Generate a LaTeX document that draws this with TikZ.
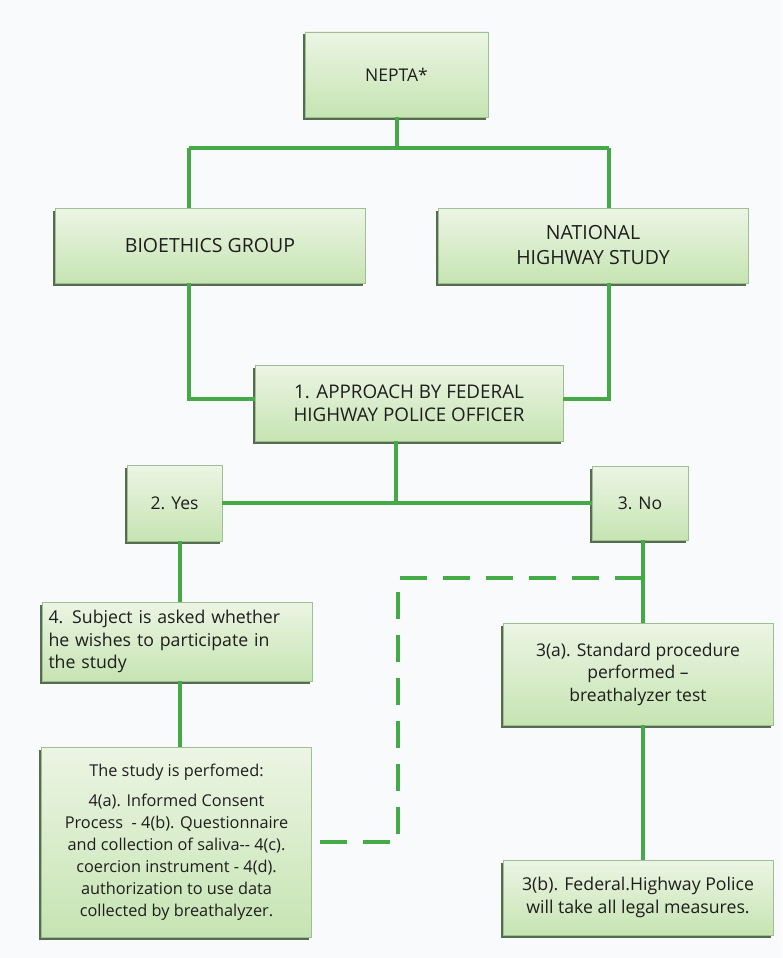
\documentclass[tikz,border=0pt]{standalone}
\usepackage{fontspec}
\setmainfont{Open Sans}
\usetikzlibrary{shadows}

\definecolor{pagebg}{RGB}{249,250,251}
\definecolor{wirecol}{RGB}{68,170,72}
\definecolor{boxtop}{RGB}{236,245,228}
\definecolor{boxbot}{RGB}{198,228,178}
\definecolor{boxedge}{RGB}{160,190,150}
\definecolor{shadowcol}{RGB}{58,84,52}
\definecolor{inkcol}{RGB}{30,30,30}

\tikzset{
  box/.style={rectangle, draw=boxedge, line width=0.6pt,
    top color=boxtop, bottom color=boxbot,
    drop shadow={shadow xshift=-2.5pt, shadow yshift=-2.5pt, fill=shadowcol, opacity=0.85},
    text=inkcol, align=center, inner sep=0pt,
    font=\fontsize{17.7}{22.5}\selectfont},
  capsfont/.style={font=\fontsize{19.5}{25}\selectfont},
  wire/.style={draw=wirecol, line width=4pt},
  dashwire/.style={draw=wirecol, line width=4pt, dash pattern=on 27pt off 16pt},
}

\begin{document}
\begin{tikzpicture}[x=1pt, y=-1pt]
\fill[pagebg] (0,0) rectangle (782,958);
\useasboundingbox (0,0) rectangle (782,958);

% boxes
\node[box, font=\fontsize{17.5}{22}\selectfont, minimum width=183pt, minimum height=85pt] (nepta) at (396.5,74.5) {NEPTA*};
\node[box, capsfont, minimum width=310pt, minimum height=75pt] (bio) at (210,245.5) {BIOETHICS GROUP};
\node[box, capsfont, minimum width=310pt, minimum height=75pt] (nat) at (593,245.5) {NATIONAL\\HIGHWAY STUDY};
\node[box, font=\fontsize{18.8}{23}\selectfont, minimum width=308pt, minimum height=76pt] (app) at (409,403) {1. APPROACH BY FEDERAL\\HIGHWAY POLICE OFFICER};
\node[box, font=\fontsize{17.5}{22}\selectfont, minimum width=95pt, minimum height=76pt] (yes) at (174.5,503) {2. Yes};
\node[box, font=\fontsize{17.5}{22}\selectfont, minimum width=96pt, minimum height=74pt] (no) at (640,503) {3. No};
\node[box, minimum width=270pt, minimum height=79pt, align=left, text width=257pt] (s4) at (177,641.5)
  {4. Subject is asked whether\\he wishes to participate in\\the study};
\node[box, font=\fontsize{16.3}{22}\selectfont, minimum width=270pt, minimum height=190pt] (s5) at (176.5,842)
  {The study is perfomed:\\[8pt]
   4(a). Informed Consent\\
   Process\ \ - 4(b). Questionnaire\\
   and collection of saliva-{}- 4(c).\\
   coercion instrument - 4(d).\\
   authorization to use data\\
   collected by breathalyzer.};
\node[box, font=\fontsize{17.5}{22.5}\selectfont, minimum width=270pt, minimum height=102pt] (s3a) at (638,674)
  {3(a). Standard procedure\\performed --\\breathalyzer test};
\node[box, minimum width=270pt, minimum height=75pt] (s3b) at (638,897.5)
  {3(b). Federal.Highway Police\\will take all legal measures.};

% column and row positions of the connectors
\coordinate (colL) at (180,0);
\coordinate (colB) at (189,0);
\coordinate (colM) at (396,0);
\coordinate (colN) at (609,0);
\coordinate (colR) at (643,0);
\coordinate (dashX) at (398,0);
\coordinate (busTop) at (0,148);
\coordinate (busMid) at (0,399);
\coordinate (busLow) at (0,503);
\coordinate (dashY) at (0,578);
\coordinate (dashEnd) at (643,578);

% solid connectors
\draw[wire] (nepta.south) -- (nepta.south |- busTop);
\draw[wire] (bio.north -| colB) -- (colB |- busTop);
\draw[wire] (nat.north -| colN) -- (colN |- busTop);
\draw[wire] (colB |- busTop) -- (busTop -| colN);
\draw[wire] (bio.south -| colB) |- (app.west |- busMid);
\draw[wire] (nat.south -| colN) |- (app.east |- busMid);
\draw[wire] (app.south -| colM) -- (colM |- busLow);
\draw[wire] (yes.east) -- (no.west);
\draw[wire] (yes.south -| colL) -- (s4.north -| colL);
\draw[wire] (s4.south -| colL) -- (s5.north -| colL);
\draw[wire] (no.south -| colR) -- (s3a.north -| colR);
\draw[wire] (s3a.south -| colR) -- (s3b.north -| colR);

% dashed link back from the study box
\draw[dashwire, dash phase=-8pt] (s5.east) -| (dashX |- dashY) -- (dashEnd);
\end{tikzpicture}
\end{document}
